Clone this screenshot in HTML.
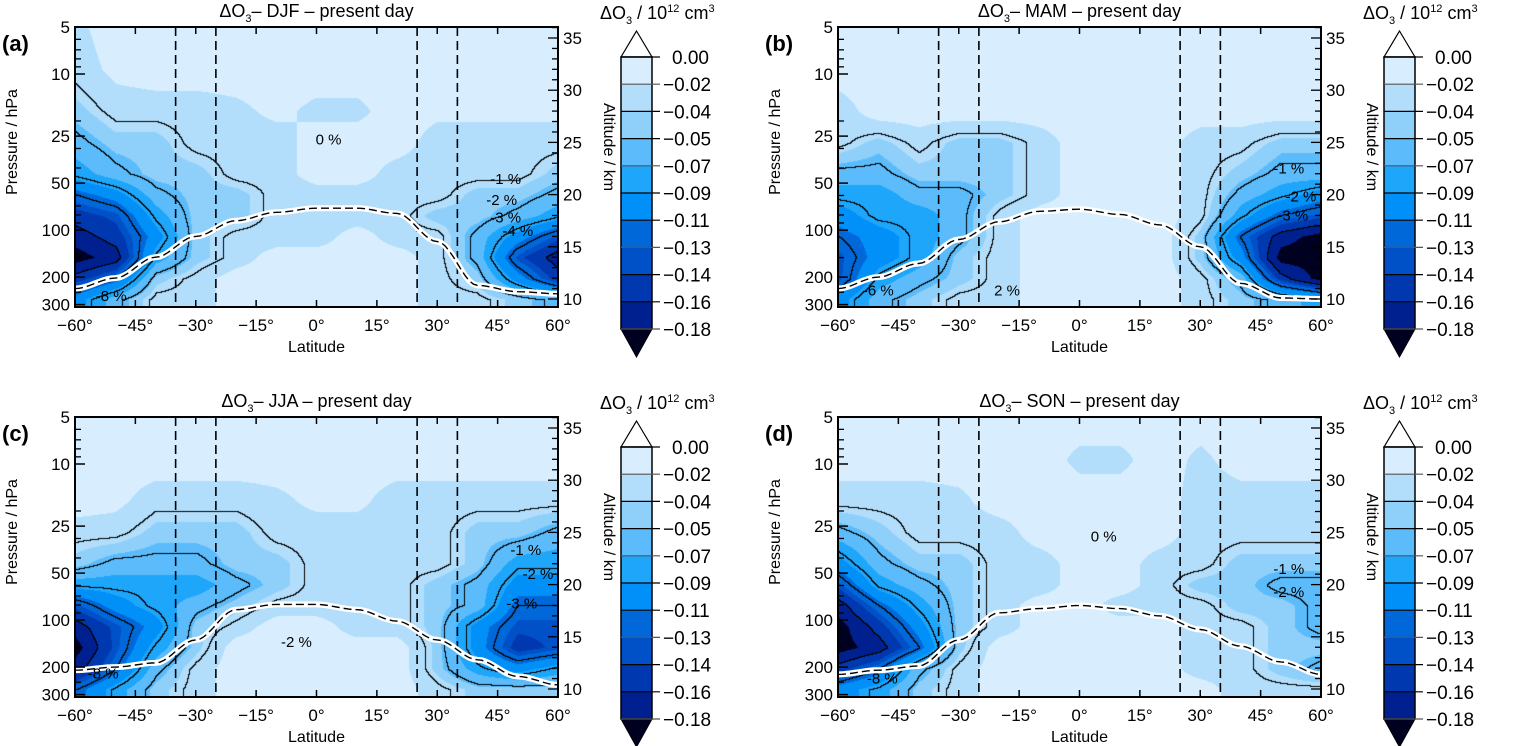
<!DOCTYPE html>
<html><head><meta charset="utf-8"><style>
html,body{margin:0;padding:0;background:#fff;}
#root{position:relative;width:1513px;height:746px;overflow:hidden;background:#fff;font-family:"Liberation Sans",sans-serif;}
canvas{position:absolute;}
svg{position:absolute;left:0;top:0;}
</style></head><body>
<div id="root">
<svg id="svg" width="1513" height="746"></svg>
</div>
<script>
// ---- shared grid ----
const lats = [-60,-50,-40,-30,-20,-10,0,10,20,30,40,50,60];
const alts = [10,12,14,16,18,20,22,25,28,32,36];
const levels = [0,-0.02,-0.04,-0.05,-0.07,-0.09,-0.11,-0.13,-0.14,-0.16,-0.18];
const levelLabels = ["0.00","-0.02","-0.04","-0.05","-0.07","-0.09","-0.11","-0.13","-0.14","-0.16","-0.18"];
const lineLevels = [-0.035,-0.055,-0.085,-0.12,-0.16];
const latTicks = [-60,-45,-30,-15,0,15,30,45,60];
const presTicks = [5,10,25,50,100,200,300];
const altTicks = [10,15,20,25,30,35];
const dashedLats = [-35,-25,25,35];
const seasons = ["DJF","MAM","JJA","SON"];
const panelLetters = ["(a)","(b)","(c)","(d)"];

// ---- field values (rows = alts, cols = lats) ----
const fieldDJF = [
[-0.10,-0.06,-0.03,-0.03,-0.01,-0.01,-0.01,-0.01,-0.01,-0.03,-0.03,-0.045,-0.06],
[-0.15,-0.12,-0.045,-0.03,-0.01,-0.01,-0.01,-0.01,-0.01,-0.03,-0.045,-0.10,-0.15],
[-0.19,-0.17,-0.08,-0.045,-0.03,-0.01,-0.01,-0.01,-0.01,-0.03,-0.06,-0.135,-0.17],
[-0.17,-0.15,-0.10,-0.045,-0.03,-0.03,-0.03,-0.01,-0.03,-0.03,-0.06,-0.10,-0.135],
[-0.15,-0.135,-0.08,-0.045,-0.045,-0.03,-0.03,-0.03,-0.03,-0.045,-0.045,-0.06,-0.08],
[-0.12,-0.10,-0.06,-0.045,-0.045,-0.03,-0.03,-0.03,-0.03,-0.03,-0.045,-0.045,-0.06],
[-0.08,-0.06,-0.045,-0.045,-0.03,-0.03,-0.01,-0.01,-0.03,-0.03,-0.03,-0.03,-0.045],
[-0.06,-0.045,-0.045,-0.03,-0.03,-0.03,-0.01,-0.01,-0.01,-0.03,-0.03,-0.03,-0.03],
[-0.045,-0.03,-0.03,-0.03,-0.025,-0.015,-0.025,-0.025,-0.01,-0.015,-0.015,-0.015,-0.015],
[-0.03,-0.015,-0.01,-0.01,-0.01,-0.01,-0.01,-0.01,-0.01,-0.01,-0.01,-0.01,-0.01],
[-0.025,-0.01,-0.01,-0.01,-0.01,-0.01,-0.01,-0.01,-0.01,-0.01,-0.01,-0.01,-0.01]];
const fieldMAM = [
[-0.10,-0.06,-0.045,-0.03,-0.03,-0.01,-0.01,-0.01,-0.01,-0.03,-0.045,-0.06,-0.08],
[-0.135,-0.08,-0.06,-0.045,-0.03,-0.01,-0.01,-0.01,-0.01,-0.03,-0.06,-0.15,-0.19],
[-0.135,-0.10,-0.08,-0.045,-0.03,-0.01,-0.01,-0.01,-0.01,-0.045,-0.10,-0.19,-0.19],
[-0.12,-0.10,-0.08,-0.06,-0.03,-0.01,-0.01,-0.01,-0.01,-0.045,-0.12,-0.17,-0.19],
[-0.10,-0.08,-0.08,-0.06,-0.03,-0.01,-0.01,-0.01,-0.01,-0.03,-0.08,-0.12,-0.135],
[-0.08,-0.08,-0.06,-0.06,-0.045,-0.03,-0.01,-0.01,-0.01,-0.03,-0.06,-0.08,-0.10],
[-0.06,-0.06,-0.045,-0.045,-0.045,-0.03,-0.01,-0.01,-0.01,-0.03,-0.045,-0.06,-0.06],
[-0.03,-0.045,-0.03,-0.045,-0.045,-0.03,-0.01,-0.01,-0.01,-0.03,-0.03,-0.045,-0.045],
[-0.03,-0.01,-0.01,-0.01,-0.01,-0.01,-0.01,-0.01,-0.01,-0.01,-0.01,-0.01,-0.01],
[-0.01,-0.01,-0.01,-0.01,-0.01,-0.01,-0.01,-0.01,-0.01,-0.01,-0.01,-0.01,-0.01],
[-0.01,-0.01,-0.01,-0.01,-0.01,-0.01,-0.01,-0.01,-0.01,-0.01,-0.01,-0.01,-0.01]];
const fieldJJA = [
[-0.12,-0.08,-0.045,-0.03,-0.01,-0.01,-0.01,-0.01,-0.01,-0.03,-0.045,-0.045,-0.045],
[-0.17,-0.12,-0.06,-0.03,-0.01,-0.01,-0.01,-0.01,-0.01,-0.045,-0.08,-0.10,-0.08],
[-0.19,-0.135,-0.08,-0.045,-0.01,-0.01,-0.01,-0.01,-0.01,-0.045,-0.10,-0.15,-0.135],
[-0.17,-0.135,-0.10,-0.045,-0.03,-0.01,-0.01,-0.03,-0.03,-0.045,-0.10,-0.135,-0.135],
[-0.135,-0.10,-0.08,-0.06,-0.045,-0.03,-0.03,-0.03,-0.03,-0.045,-0.06,-0.12,-0.12],
[-0.08,-0.08,-0.08,-0.08,-0.06,-0.045,-0.03,-0.03,-0.03,-0.045,-0.06,-0.10,-0.10],
[-0.045,-0.06,-0.06,-0.06,-0.045,-0.045,-0.03,-0.03,-0.03,-0.03,-0.045,-0.08,-0.08],
[-0.03,-0.03,-0.045,-0.045,-0.045,-0.03,-0.03,-0.03,-0.03,-0.03,-0.045,-0.045,-0.06],
[-0.01,-0.015,-0.03,-0.03,-0.03,-0.025,-0.015,-0.015,-0.03,-0.03,-0.03,-0.03,-0.03],
[-0.01,-0.01,-0.01,-0.01,-0.01,-0.01,-0.01,-0.01,-0.01,-0.01,-0.01,-0.01,-0.01],
[-0.01,-0.01,-0.01,-0.01,-0.01,-0.01,-0.01,-0.01,-0.01,-0.01,-0.01,-0.01,-0.01]];
const fieldSON = [
[-0.10,-0.08,-0.045,-0.03,-0.01,-0.01,-0.01,-0.01,-0.01,-0.01,-0.03,-0.03,-0.03],
[-0.15,-0.12,-0.06,-0.03,-0.01,-0.01,-0.01,-0.01,-0.01,-0.03,-0.03,-0.045,-0.06],
[-0.19,-0.17,-0.12,-0.045,-0.01,-0.01,-0.01,-0.01,-0.01,-0.03,-0.03,-0.045,-0.045],
[-0.19,-0.15,-0.10,-0.045,-0.03,-0.01,-0.01,-0.01,-0.01,-0.03,-0.03,-0.045,-0.06],
[-0.17,-0.12,-0.08,-0.045,-0.03,-0.01,-0.01,-0.03,-0.03,-0.03,-0.045,-0.045,-0.06],
[-0.135,-0.08,-0.06,-0.045,-0.03,-0.03,-0.01,-0.01,-0.03,-0.045,-0.045,-0.06,-0.06],
[-0.10,-0.06,-0.045,-0.045,-0.03,-0.03,-0.01,-0.01,-0.03,-0.03,-0.045,-0.045,-0.045],
[-0.06,-0.045,-0.03,-0.03,-0.03,-0.01,-0.01,-0.01,-0.01,-0.03,-0.03,-0.03,-0.03],
[-0.03,-0.03,-0.03,-0.025,-0.01,-0.01,-0.01,-0.01,-0.01,-0.03,-0.03,-0.03,-0.03],
[-0.01,-0.01,-0.01,-0.01,-0.01,-0.01,-0.025,-0.025,-0.01,-0.025,-0.01,-0.01,-0.01],
[-0.01,-0.01,-0.01,-0.01,-0.01,-0.01,-0.01,-0.01,-0.01,-0.01,-0.01,-0.01,-0.01]];
const fields = [fieldDJF, fieldMAM, fieldJJA, fieldSON];

// ---- tropopause altitude (km) per lat ----
const tropDJF = [11,12,14,16,17.5,18.3,18.7,18.7,18.2,15.5,11.3,10.7,10.5];
const tropMAM = [11,12.1,13.4,15.7,17.4,18.4,18.6,18.1,17.1,15,11.5,10.1,10];
const tropJJA = [11.8,12.1,12.5,14.7,17.6,18.1,18.1,17.6,16.5,14.7,12.8,11.2,10.4];
const tropSON = [11.4,11.8,12.2,14.7,17.3,17.7,18,17.7,17,15.7,14.1,12.6,11.4];
const trops = [tropDJF, tropMAM, tropJJA, tropSON];

// ---- contour percent labels [lat, alt, text] ----
const pctDJF = [[3,25.3,"0 %"],[47,21.5,"-1 %"],[46,19.5,"-2 %"],[47,17.8,"-3 %"],[50,16.5,"-4 %"],[-51,10.3,"-8 %"]];
const pctMAM = [[52,22.5,"-1 %"],[55,19.8,"-2 %"],[53,18,"-3 %"],[-50,10.8,"-6 %"],[-18,10.8,"2 %"]];
const pctJJA = [[52,23.3,"-1 %"],[55,21,"-2 %"],[51,18.2,"-3 %"],[-5,14.5,"-2 %"],[-53,11.5,"-8 %"]];
const pctSON = [[6,24.6,"0 %"],[52,21.5,"-1 %"],[52,19.3,"-2 %"],[-49,11,"-8 %"]];
const pcts = [pctDJF, pctMAM, pctJJA, pctSON];

const colors = ["#d8eefe","#b2defb","#8fd0fb","#5cbcfb","#1ea6fb","#0090f8","#0068d8","#0050c8","#0038b0","#00208f"];
const darkest = "#000020";

const panels = [{x:75,y:27},{x:838,y:27},{x:75,y:417},{x:838,y:417}];
const W = 483, H = 280;
const NS = "http://www.w3.org/2000/svg";
const svg = document.getElementById('svg');
const root = document.getElementById('root');

function xScale(p, lat){ return p.x + (lat+60)/120*W; }
function yAlt(p, a){ return p.y + 11 + (35-a)*10.44; }
function yPres(p, pr){ return p.y + 67.8*Math.log(pr/5); }
function altOfRel(r){ return 35 - (r-11)/10.44; }

function mk(tag, attrs, parent){
  const e = document.createElementNS(NS, tag);
  for (const k in attrs) e.setAttribute(k, attrs[k]);
  (parent||svg).appendChild(e);
  return e;
}
function txt(x,y,s,size,anchor,parent){
  const t = mk('text',{x:x,y:y,'font-size':size,'text-anchor':anchor||'start','font-family':'Liberation Sans, sans-serif',fill:'#000'},parent);
  t.textContent = s;
  return t;
}
function sample(f, lat, alt){
  lat = Math.max(-60, Math.min(60, lat));
  alt = Math.max(10, Math.min(36, alt));
  let i = Math.min(11, Math.floor((lat+60)/10));
  const tx = (lat - lats[i])/10;
  let j = 0;
  while (j < alts.length-2 && alt > alts[j+1]) j++;
  const ty = (alt - alts[j])/(alts[j+1]-alts[j]);
  const v00=f[j][i], v10=f[j][i+1], v01=f[j+1][i], v11=f[j+1][i+1];
  return (v00*(1-tx)+v10*tx)*(1-ty) + (v01*(1-tx)+v11*tx)*ty;
}
function bandIndex(v){
  for (let k=1;k<levels.length;k++){ if (v >= levels[k]) return k-1; }
  return 10;
}
function hex2rgb(h){ return [parseInt(h.substr(1,2),16),parseInt(h.substr(3,2),16),parseInt(h.substr(5,2),16)]; }
const palette = colors.map(hex2rgb).concat([hex2rgb(darkest)]);
function lineIdx(v){ let c=0; for (const l of lineLevels) if (v < l) c++; return c; }

panels.forEach((p, pi) => {
  const f = fields[pi];
  const cv = document.createElement('canvas');
  cv.width = W; cv.height = H;
  cv.style.left = p.x+'px'; cv.style.top = p.y+'px';
  
  
  root.insertBefore(cv, svg);
  const ctx = cv.getContext('2d');
  const img = ctx.createImageData(W, H);
  const vals = new Float32Array(W*H);
  const li = new Int8Array(W*H);
  for (let r=0;r<H;r++){
    const a = altOfRel(r);
    for (let c=0;c<W;c++){
      const lat = -60 + c/W*120;
      const v = sample(f, lat, a);
      vals[r*W+c] = v;
      li[r*W+c] = lineIdx(v);
    }
  }
  for (let r=0;r<H;r++){
    for (let c=0;c<W;c++){
      const v = vals[r*W+c];
      let col = palette[bandIndex(v)];
      const L = li[r*W+c];
      let isLine = false;
      for (let dr=-1; dr<=1 && !isLine; dr++){
        for (let dc=-1; dc<=1; dc++){
          const rr=r+dr, cc=c+dc;
          if (rr<0||rr>=H||cc<0||cc>=W) continue;
          if (li[rr*W+cc] > L){ isLine = true; break; }
        }
      }
      if (isLine) col = [0,0,0];
      const o = (r*W+c)*4;
      img.data[o]=col[0]; img.data[o+1]=col[1]; img.data[o+2]=col[2]; img.data[o+3]=255;
    }
  }
  ctx.putImageData(img,0,0);

  const g = mk('g',{});
  
  

  const cid = 'clip'+pi;
  const cp = mk('clipPath',{id:cid},g);
  mk('rect',{x:p.x,y:p.y,width:W,height:H},cp);

  dashedLats.forEach(l => {
    const ln = mk('line',{x1:xScale(p,l),x2:xScale(p,l),y1:p.y,y2:p.y+H,stroke:'#000','stroke-width':1.6,'stroke-dasharray':'9,5'},g);
    
    
  });

  const tr = trops[pi];
  let d = '';
  for (let k=0;k<=120;k++){
    const lat = -60 + k;
    const i = Math.min(11, Math.floor((lat+60)/10));
    const t = (lat - lats[i])/10;
    const s = t*t*(3-2*t);
    const a = tr[i]*(1-s) + tr[i+1]*s;
    d += (k?'L':'M') + xScale(p,lat).toFixed(1) + ' ' + yAlt(p,a).toFixed(1);
  }
  const tw = mk('path',{d:d,fill:'none',stroke:'#fff','stroke-width':6,'clip-path':'url(#'+cid+')'},g);
  
  
  const td = mk('path',{d:d,fill:'none',stroke:'#000','stroke-width':1.4,'stroke-dasharray':'8,4','clip-path':'url(#'+cid+')'},g);
  
  

  pcts[pi].forEach(q => {
    const t = txt(xScale(p,q[0]), yAlt(p,q[1])+5, q[2], 15, 'middle', g);
    
    
  });

  mk('rect',{x:p.x,y:p.y,width:W,height:H,fill:'none',stroke:'#000','stroke-width':2},g);

  latTicks.forEach(l => {
    const x = xScale(p,l);
    mk('line',{x1:x,x2:x,y1:p.y+H,y2:p.y+H-7,stroke:'#000','stroke-width':1.5},g);
    mk('line',{x1:x,x2:x,y1:p.y,y2:p.y+7,stroke:'#000','stroke-width':1.5},g);
    const t = txt(x, p.y+H+24, (l<0?'\u2212':'')+Math.abs(l)+'\u00b0', 17, 'middle', g);
    
    
  });
  const xl = txt(p.x+W/2, p.y+H+45, 'Latitude', 16, 'middle', g);
  
  

  const minor = [6,7,8,9,20,30,40,60,70,80,90,150,250];
  minor.forEach(pr => {
    const y = yPres(p,pr);
    mk('line',{x1:p.x,x2:p.x+6,y1:y,y2:y,stroke:'#000','stroke-width':1.3},g);
  });
  presTicks.forEach(pr => {
    const y = yPres(p,pr);
    mk('line',{x1:p.x,x2:p.x+10,y1:y,y2:y,stroke:'#000','stroke-width':1.5},g);
    const t = txt(p.x-5, y+6, String(pr), 17, 'end', g);
    
    
  });
  const yl = txt(0,0,'Pressure  /  hPa',16,'middle',g);
  yl.setAttribute('transform','translate('+(p.x-58)+','+(p.y+115)+') rotate(-90)');
  
  

  for (let a=10;a<=36;a++){
    const y = yAlt(p,a);
    if (y < p.y || y > p.y+H) continue;
    const maj = a%5===0;
    mk('line',{x1:p.x+W,x2:p.x+W-(maj?10:6),y1:y,y2:y,stroke:'#000','stroke-width':1.3},g);
  }
  altTicks.forEach(a => {
    const t = txt(p.x+W+5, yAlt(p,a)+6, String(a), 17, 'start', g);
    
    
  });
  const al = txt(0,0,'Altitude  /  km',16,'middle',g);
  al.setAttribute('transform','translate('+(p.x+W+46)+','+(p.y+120)+') rotate(90)');
  
  

  const tt = mk('text',{x:p.x+W/2,y:p.y-10,'font-size':18,'text-anchor':'middle','font-family':'Liberation Sans, sans-serif'},g);
  tt.innerHTML = '\u0394O<tspan font-size="11" dy="5">3</tspan><tspan dy="-5">\u2013  ' + seasons[pi] + '  \u2013  present day</tspan>';
  
  

  const pl = txt(p.x-73, p.y+24, panelLetters[pi], 22, 'start', g);
  pl.setAttribute('font-weight','bold');
  
  

  const cb = mk('g',{},g);
  
  
  const bx = p.x + 546, bw = 31, by = p.y + 30, bh = 27.2;
  mk('polygon',{points:bx+','+by+' '+(bx+bw)+','+by+' '+(bx+bw/2)+','+(by-26),fill:'#fff',stroke:'#000','stroke-width':1.2},cb);
  colors.forEach((c,k) => {
    const r = mk('rect',{x:bx,y:by+k*bh,width:bw,height:bh,fill:c,stroke:'none'},cb);
    
    
  });
  mk('polygon',{points:bx+','+(by+10*bh)+' '+(bx+bw)+','+(by+10*bh)+' '+(bx+bw/2)+','+(by+10*bh+28),fill:darkest,stroke:'#000','stroke-width':1},cb);
  mk('rect',{x:bx,y:by,width:bw,height:10*bh,fill:'none',stroke:'#000','stroke-width':1.5},cb);
  levelLabels.forEach((s,k) => {
    const y = by + k*bh;
    mk('line',{x1:bx,x2:bx+bw+8,y1:y,y2:y,stroke:(k%3===1?'#555':'#000'),'stroke-width':1.2},cb);
    const t = txt(bx+bw+(k===0?20:11), y+7, s.replace('-','\u2212'), 19, 'start', cb);
    
    
  });
  const ct = mk('text',{x:bx-21,y:p.y-8,'font-size':18,'font-family':'Liberation Sans, sans-serif'},cb);
  ct.innerHTML = '\u0394O<tspan font-size="11" dy="5">3</tspan><tspan dy="-5"> / 10</tspan><tspan font-size="11" dy="-7">12</tspan><tspan dy="7"> cm</tspan><tspan font-size="11" dy="-7">3</tspan>';
  
  
});
</script>
</body></html>
